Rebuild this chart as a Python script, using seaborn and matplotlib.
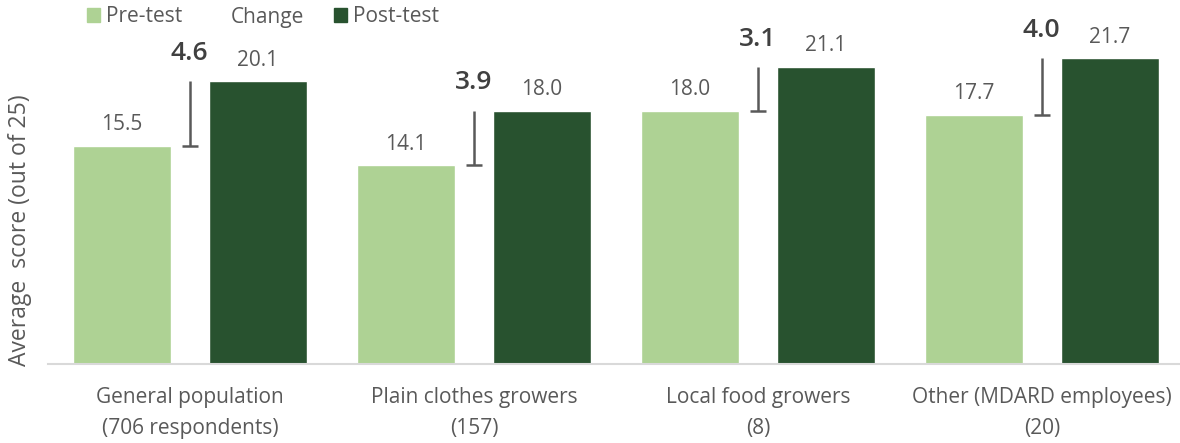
import matplotlib
matplotlib.use("Agg")
import matplotlib.pyplot as plt
import matplotlib.patches as mpatches
import seaborn as sns
import pandas as pd

# ---- data ----
categories = ["General population\n(706 respondents)",
              "Plain clothes growers\n(157)",
              "Local food growers\n(8)",
              "Other (MDARD employees)\n(20)"]
pre_test = [15.5, 14.1, 18.0, 17.7]
post_test = [20.1, 18.0, 21.1, 21.7]
change = [4.6, 3.9, 3.1, 4.0]
series_names = ["Pre-test", "Change", "Post-test"]

# ---- styling ----
PRE_COLOR = "#AED294"
POST_COLOR = "#28522F"
TEXT = "#595959"
FONT = ["Open Sans", "DejaVu Sans"]
FS = 15

sns.set_theme(style="white")
plt.rcParams["font.family"] = FONT

df = pd.DataFrame({
    "group": categories * 2,
    "test": [series_names[0]] * 4 + [series_names[2]] * 4,
    "score": pre_test + post_test,
})

W, H = 1180, 443
fig = plt.figure(figsize=(W / 100, H / 100), dpi=100)
ax = fig.add_axes([48 / W, 79 / H, 1136 / W, 352 / H])

sns.barplot(data=df, x="group", y="score", hue="test",
            palette={series_names[0]: PRE_COLOR, series_names[2]: POST_COLOR},
            width=0.958, gap=0.28, dodge=True, legend=False, ax=ax,
            saturation=1, errorbar=None)

ax.set_ylim(0, 25)
ax.set_xlim(-0.5, 3.5)
ax.set_yticks([])
ax.set_xlabel("")
ax.set_ylabel("")
for s in ["top", "right", "left"]:
    ax.spines[s].set_visible(False)
ax.spines["bottom"].set_color("#D9D9D9")
ax.spines["bottom"].set_linewidth(1.5)
ax.tick_params(axis="x", length=0, pad=16.5, labelsize=FS, labelcolor=TEXT)
for lab in ax.get_xticklabels():
    lab.set_linespacing(1.65)

# value labels
for cont in ax.containers:
    ax.bar_label(cont, fmt="%.1f", padding=7.5, fontsize=FS, color=TEXT)

# change markers (minus error bar from post down to pre)
xs = list(range(len(categories)))
ax.vlines(xs, pre_test, post_test, color=TEXT, lw=1.8)
ax.plot(xs, pre_test, linestyle="none", marker="_", markersize=12,
        markeredgewidth=1.8, color=TEXT)
for x, p, c in zip(xs, post_test, change):
    ax.annotate(f"{c:.1f}", xy=(x, p), xytext=(-0.5, 20),
                textcoords="offset points", ha="center", va="center",
                fontsize=19, fontweight="semibold", color="#404040")

# legend
handles = [mpatches.Patch(color=PRE_COLOR),
           mpatches.Patch(color="none"),
           mpatches.Patch(color=POST_COLOR)]
fig.legend(handles, series_names, loc="center left",
           bbox_to_anchor=(87 / W, 1 - 17 / H), ncol=3, frameon=False,
           fontsize=FS, labelcolor=TEXT, handlelength=0.62, handleheight=0.62,
           handletextpad=0.3, columnspacing=1.42, borderpad=0, borderaxespad=0)

fig.text(20 / W, 1 - 230 / H, "Average  score (out of 25)", rotation=90,
         ha="center", va="center", fontsize=16.5, color=TEXT)

fig.savefig("out.png", dpi=100)
